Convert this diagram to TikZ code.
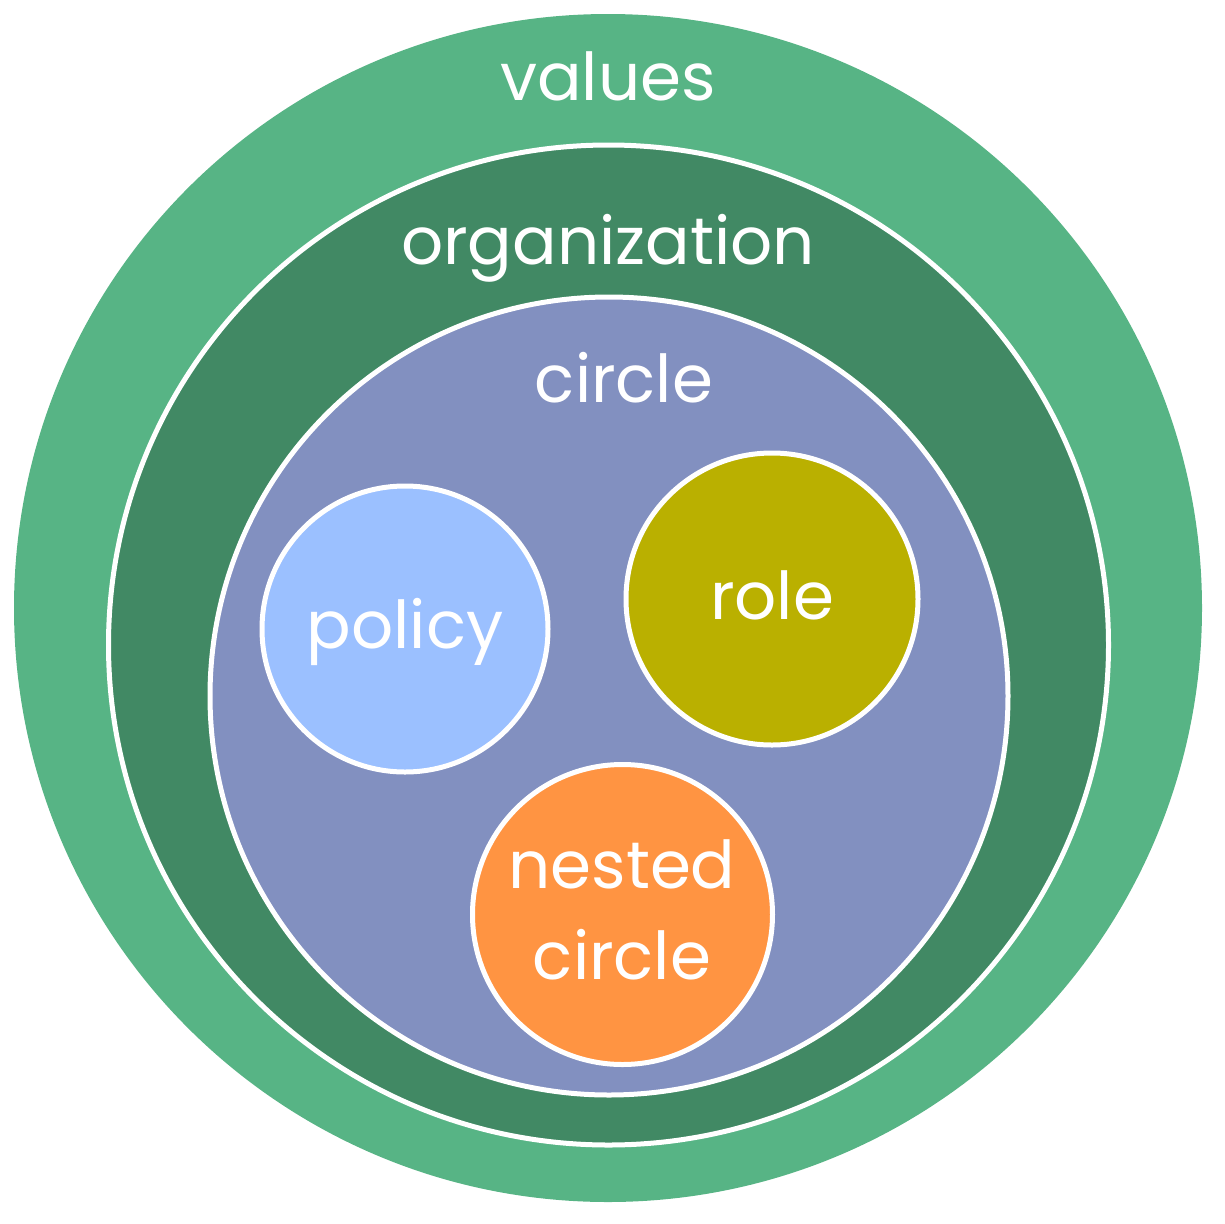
\documentclass[tikz,border=0pt]{standalone}
\usepackage{fontspec}
\setmainfont{Poppins}
\definecolor{valuesC}{HTML}{57B485}
\definecolor{orgC}{HTML}{418964}
\definecolor{circC}{HTML}{8290C0}
\definecolor{polC}{HTML}{9BC0FF}
\definecolor{roleC}{HTML}{BAB000}
\definecolor{nestC}{HTML}{FF9442}
\tikzset{
  disc/.style={circle, inner sep=0pt, draw=white, line width=5pt},
  lbl/.style={text=white, anchor=base, inner sep=0pt, font=\fontsize{66}{74}\selectfont},
}
\begin{document}
\begin{tikzpicture}[x=1pt,y=-1pt]
\useasboundingbox (0,0) rectangle (1224,1224);
\node[circle, inner sep=0pt, fill=valuesC, minimum size=1188pt] (values) at (608,608) {};
\node[disc, fill=orgC, minimum size=1000pt] (org) at (608.5,645) {};
\node[disc, fill=circC, minimum size=798pt] (circ) at (609,696) {};
\node[disc, fill=polC, minimum size=286pt] (policy) at (405,629) {};
\node[disc, fill=roleC, minimum size=292pt] (role) at (772,599) {};
\node[disc, fill=nestC, minimum size=300pt] (nested) at (622.5,914.5) {};
\node[lbl] (tvalues) at (608,100) {values};
\node[lbl] (torg) at (608,264) {organization};
\node[lbl] (tcirc) at (624,402) {circle};
\node[lbl] (tpol) at (405,648) {policy};
\node[lbl] (trole) at (772,619) {role};
\node[lbl] (tnest1) at (622,888) {nested};
\node[lbl] (tnest2) at (622,979) {circle};
\end{tikzpicture}
\end{document}
